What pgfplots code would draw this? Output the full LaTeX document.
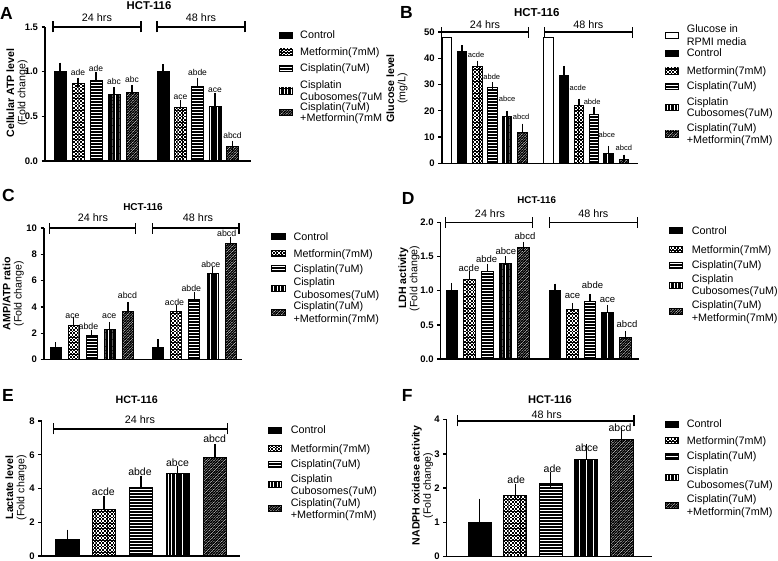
\documentclass[border=0pt]{standalone}
\usepackage{pgfplots}
\pgfplotsset{compat=1.18}
\usepackage{fontspec}
\setmainfont{Liberation Sans}
\usetikzlibrary{patterns.meta}

% tiles overlap a little so that no seams show between them
\tikzdeclarepattern{
  name=chk, type=uncolored,
  bottom left={(-0.2bp,-0.2bp)}, top right={(3.6bp,3.6bp)},
  tile size={(3.4bp,3.4bp)},
  code={\fill (-0.1bp,-0.1bp) rectangle (1.8bp,1.8bp); \fill (1.6bp,1.6bp) rectangle (3.5bp,3.5bp);}
}
\tikzdeclarepattern{
  name=hstr, type=uncolored,
  bottom left={(-0.3bp,-0.1bp)}, top right={(3.3bp,3.1bp)},
  tile size={(3bp,3bp)},
  code={\fill (-0.3bp,0bp) rectangle (3.3bp,2.1bp);}
}
\tikzdeclarepattern{
  name=vstr, type=uncolored,
  bottom left={(-0.1bp,-0.3bp)}, top right={(3.6bp,3.8bp)},
  tile size={(3.5bp,3.5bp)},
  code={\fill (0bp,-0.3bp) rectangle (2.85bp,3.8bp);}
}
\tikzdeclarepattern{
  name=dstr, type=uncolored,
  bottom left={(-0.3bp,-0.3bp)}, top right={(2.9bp,2.9bp)},
  tile size={(2.6bp,2.6bp)},
  code={\draw[line width=1.05bp] (-1.3bp,-1.3bp) -- (3.9bp,3.9bp)
          (-1.3bp,1.3bp) -- (1.3bp,3.9bp) (1.3bp,-1.3bp) -- (3.9bp,1.3bp);}
}

\tikzset{
  gluc/.style={draw=black, fill=white},
  ctrl/.style={draw=black, fill=black},
  metf/.style={draw=black, pattern=chk},
  cisp/.style={draw=black, pattern=hstr},
  cubo/.style={draw=black, pattern=vstr},
  comb/.style={draw=black, pattern=dstr},
  lt/.style={anchor=base west, inner sep=0pt, font=\fontsize{10.8}{12}\selectfont},
}

\pgfplotsset{
  prism/.style={
    scale only axis, clip=false, axis lines=left,
    axis line style={-, line width=1.4pt},
    xtick=\empty, xmin=0, ymin=0, enlargelimits=false,
    tick align=outside, major tick length=3.5pt,
    ytick style={line width=1.4pt, black},
    yticklabel style={font=\bfseries\fontsize{9.5}{10}\selectfont},
    ylabel style={font=\fontsize{10.6}{11.2}\selectfont, align=center, anchor=center},
    anchor=south west,
  },
  eb/.style={error bars/y dir=plus, error bars/y explicit,
    error bars/error bar style={line width=1.1pt, black},
    error bars/error mark options={line width=1.1pt, mark size=#1, black}},
  lab/.style={draw=none, mark=none, nodes near coords, point meta=explicit symbolic,
    nodes near coords style={font=\fontsize{#1}{#1}\selectfont, inner sep=0pt, black}},
}

\newcommand{\hrsf}{\fontsize{10.8}{12}\selectfont}
% bracket: x1, x2, text x, y, text, text raise
\newcommand{\brk}[6]{%
  \draw[line width=1.3pt] (axis cs:#1,#4) -- (axis cs:#2,#4);
  \draw[line width=1.3pt] (axis cs:#1,#4) ++(0pt,-5.5pt) -- ++(0pt,11pt);
  \draw[line width=1.3pt] (axis cs:#2,#4) ++(0pt,-5.5pt) -- ++(0pt,11pt);
  \node[anchor=base, inner sep=0pt, font=\hrsf, yshift=#6] at (axis cs:#3,#4) {#5};
}

% legend: swatch x, text x, then line centres (y down)
\newcommand{\prismleg}[9]{%
  \draw[ctrl, line width=0.8pt] (#1,{-(#3)+3}) rectangle ++(13.5,-6);
  \node[lt] at (#2,{-(#3)-3.9}) {Control};
  \draw[metf, line width=0.8pt] (#1,{-(#4)+3}) rectangle ++(13.5,-6);
  \node[lt] at (#2,{-(#4)-3.9}) {Metformin(7mM)};
  \draw[cisp, line width=0.8pt] (#1,{-(#5)+3}) rectangle ++(13.5,-6);
  \node[lt] at (#2,{-(#5)-3.9}) {Cisplatin(7uM)};
  \draw[cubo, line width=0.8pt] (#1,{-(#6+#7)/2+3}) rectangle ++(13.5,-6);
  \node[lt] at (#2,{-(#6)-3.9}) {Cisplatin};
  \node[lt] at (#2,{-(#7)-3.9}) {\cuboname};
  \draw[comb, line width=0.8pt] (#1,{-(#8+#9)/2+3}) rectangle ++(13.5,-6);
  \node[lt] at (#2,{-(#8)-3.9}) {Cisplatin(7uM)};
  \node[lt] at (#2,{-(#9)-3.9}) {\combname};
}
\newcommand{\cuboname}{Cubosomes(7uM)}
\newcommand{\combname}{+Metformin(7mM)}

\begin{document}
\begin{tikzpicture}
\path[use as bounding box] (0pt,0pt) rectangle (778pt,-561pt);

% ---------------- A
\begin{axis}[prism, at={(45pt,-161pt)}, width=206pt, height=134pt, xmax=206, ymax=1.5,
  ytick={0,0.5,1,1.5}, yticklabels={0.0,0.5,1.0,1.5},
  ylabel={\textbf{Cellular ATP level}\\(Fold change)},
  ylabel style={at={(axis description cs:-0.136,0.507)}}]
\addplot[ybar, bar shift=0pt, bar width=12, line width=1pt, ctrl, eb=4.5pt] coordinates {(15,1.0) +- (0,0.05) (118,1.0) +- (0,0.03)};
\addplot[ybar, bar shift=0pt, bar width=12, line width=1pt, metf, eb=4.5pt] coordinates {(33,0.866) +- (0,0.015) (135.5,0.60) +- (0,0.03)};
\addplot[ybar, bar shift=0pt, bar width=12, line width=1pt, cisp, eb=4.5pt] coordinates {(51,0.896) +- (0,0.045) (152.5,0.836) +- (0,0.045)};
\addplot[ybar, bar shift=0pt, bar width=12, line width=1pt, cubo, eb=4.5pt] coordinates {(69,0.747) +- (0,0.03) (170,0.606) +- (0,0.10)};
\addplot[ybar, bar shift=0pt, bar width=12, line width=1pt, comb, eb=4.5pt] coordinates {(87,0.762) +- (0,0.04) (187.5,0.16) +- (0,0.015)};
\addplot[lab=8.5] coordinates {(33,0.957) [ade] (51,1.002) [ade] (69,0.849) [abc] (87,0.872) [abc]
  (135.5,0.682) [ace] (152.5,0.957) [abde] (170,0.762) [ace] (187.5,0.252) [abcd]};
\brk{8}{96}{52}{1.5}{24 hrs}{5pt}
\brk{112}{200}{156}{1.5}{48 hrs}{5pt}
\end{axis}

% ---------------- B
\begin{axis}[prism, at={(441.7pt,-163.3pt)}, width=196pt, height=131.25pt, xmax=196, ymax=50,
  ytick={0,10,20,30,40,50}, yticklabels={0,10,20,30,40,50},
  ylabel={\textbf{Glucose level}\\(mg/L)},
  ylabel style={at={(axis description cs:-0.228,0.571)}}]
\addplot[ybar, bar shift=0pt, bar width=9.7, line width=1pt, gluc] coordinates {(5.3,48) (107,48)};
\addplot[ybar, bar shift=0pt, bar width=9.7, line width=1pt, ctrl, eb=3.5pt] coordinates {(20.3,42.6) +- (0,1) (122.3,33.3) +- (0,2.5)};
\addplot[ybar, bar shift=0pt, bar width=9.7, line width=1pt, metf, eb=3.5pt] coordinates {(36,36.8) +- (0,1) (137.3,22) +- (0,1.3)};
\addplot[ybar, bar shift=0pt, bar width=9.7, line width=1pt, cisp, eb=3.5pt] coordinates {(50.8,28.7) +- (0,0.9) (152.3,18.6) +- (0,1.7)};
\addplot[ybar, bar shift=0pt, bar width=9.7, line width=1pt, cubo, eb=3.5pt] coordinates {(65.3,17.7) +- (0,0.9) (167,3.7) +- (0,1.6)};
\addplot[ybar, bar shift=0pt, bar width=9.7, line width=1pt, comb, eb=3.5pt] coordinates {(80.8,11.9) +- (0,1.9) (182.3,1.5) +- (0,0.5)};
\addplot[lab=7.5] coordinates {(34.4,40.1) [acde] (50.1,31.7) [abde] (65.4,23.3) [abce] (79.4,16.5) [abcd]
  (136.1,27.8) [acde] (150.4,22.3) [abde] (165.1,9.7) [abce] (182.1,4.9) [abcd]};
\brk{0}{86.6}{43.3}{50}{24 hrs}{3.4pt}
\brk{102.6}{190.6}{146.6}{50}{48 hrs}{3.4pt}
\end{axis}

% ---------------- C
\begin{axis}[prism, at={(44pt,-359.6pt)}, width=198pt, height=131.6pt, xmax=198, ymax=10,
  ytick={0,2,4,6,8,10}, yticklabels={0,2,4,6,8,10},
  ylabel={\textbf{AMP/ATP ratio}\\(Fold change)},
  ylabel style={at={(axis description cs:-0.155,0.5)}}]
\addplot[ybar, bar shift=0pt, bar width=11, line width=1pt, ctrl, eb=4pt] coordinates {(11.5,0.94) +- (0,0.08) (114,0.94) +- (0,0.3)};
\addplot[ybar, bar shift=0pt, bar width=11, line width=1pt, metf, eb=4pt] coordinates {(29.8,2.57) +- (0,0.33) (132.3,3.66) +- (0,0.18)};
\addplot[ybar, bar shift=0pt, bar width=11, line width=1pt, cisp, eb=4pt] coordinates {(47.7,1.8) +- (0,0.16) (150.3,4.6) +- (0,0.25)};
\addplot[ybar, bar shift=0pt, bar width=11, line width=1pt, cubo, eb=4pt] coordinates {(65.8,2.31) +- (0,0.26) (168.5,6.56) +- (0,0.14)};
\addplot[ybar, bar shift=0pt, bar width=11, line width=1pt, comb, eb=4pt] coordinates {(84,3.66) +- (0,0.43) (186.8,8.82) +- (0,0.18)};
\addplot[lab=8.8] coordinates {(28.5,3.13) [ace] (44.5,2.27) [abde] (65.2,3.08) [ace] (83.5,4.6) [abcd]
  (130.5,4.1) [acde] (147.3,5.16) [abde] (166.8,6.97) [abce] (182.7,9.3) [abcd]};
\brk{5.3}{91.7}{49}{10}{24 hrs}{6.1pt}
\brk{108.7}{195}{154}{10}{48 hrs}{6.1pt}
\end{axis}

% ---------------- D
\begin{axis}[prism, at={(440.7pt,-359pt)}, width=198.6pt, height=136.7pt, xmax=198.6, ymax=2,
  ytick={0,0.5,1,1.5,2}, yticklabels={0.0,0.5,1.0,1.5,2.0},
  ylabel={\textbf{LDH activity}\\(Fold change)},
  ylabel style={at={(axis description cs:-0.16,0.59)}}]
\addplot[ybar, bar shift=0pt, bar width=11.6, line width=1pt, ctrl, eb=4.3pt] coordinates {(11.1,1.0) +- (0,0.05) (114.3,1.0) +- (0,0.04)};
\addplot[ybar, bar shift=0pt, bar width=11.6, line width=1pt, metf, eb=4.3pt] coordinates {(28.8,1.17) +- (0,0.05) (131.5,0.72) +- (0,0.04)};
\addplot[ybar, bar shift=0pt, bar width=11.6, line width=1pt, cisp, eb=4.3pt] coordinates {(46.8,1.28) +- (0,0.05) (149.3,0.84) +- (0,0.05)};
\addplot[ybar, bar shift=0pt, bar width=11.6, line width=1pt, cubo, eb=4.3pt] coordinates {(64.5,1.39) +- (0,0.05) (167,0.68) +- (0,0.05)};
\addplot[ybar, bar shift=0pt, bar width=11.6, line width=1pt, comb, eb=4.3pt] coordinates {(82.8,1.63) +- (0,0.02) (184.5,0.32) +- (0,0.03)};
\addplot[lab=9.5] coordinates {(28.3,1.27) [acde] (46,1.41) [abde] (65.1,1.53) [abce] (84.3,1.75) [abcd]
  (131.8,0.88) [ace] (151.8,1.03) [abde] (166.8,0.82) [ace] (186.3,0.45) [abcd]};
\brk{5}{92}{49.3}{2}{24 hrs}{5.1pt}
\brk{108.6}{196.6}{152.6}{2}{48 hrs}{5.1pt}
\end{axis}

% ---------------- E
\begin{axis}[prism, at={(41.7pt,-556pt)}, width=198.3pt, height=135pt, xmax=198.3, ymax=8,
  ytick={0,2,4,6,8}, yticklabels={0,2,4,6,8},
  ylabel={\textbf{Lactate level}\\(Fold change)},
  ylabel style={at={(axis description cs:-0.13,0.507)}}]
\addplot[ybar, bar shift=0pt, bar width=23.3, line width=1pt, ctrl, eb=6.2pt] coordinates {(25.8,0.99) +- (0,0.2)};
\addplot[ybar, bar shift=0pt, bar width=23.3, line width=1pt, metf, eb=6.2pt] coordinates {(62.3,2.77) +- (0,0.4)};
\addplot[ybar, bar shift=0pt, bar width=23.3, line width=1pt, cisp, eb=6.2pt] coordinates {(99.3,4.06) +- (0,0.34)};
\addplot[ybar, bar shift=0pt, bar width=23.3, line width=1pt, cubo, eb=6.2pt] coordinates {(136,4.87) +- (0,0.08)};
\addplot[ybar, bar shift=0pt, bar width=23.3, line width=1pt, comb, eb=6.2pt] coordinates {(173.3,5.86) +- (0,0.4)};
\addplot[lab=10.5] coordinates {(61.6,3.55) [acde] (98.3,4.78) [abde] (135.8,5.28) [abce] (173,6.73) [abcd]};
\brk{11.6}{186}{98.3}{7.53}{24 hrs}{5.1pt}
\end{axis}

% ---------------- F
\begin{axis}[prism, at={(446.7pt,-556.7pt)}, width=205pt, height=137.2pt, xmax=205, ymax=4,
  ytick={0,1,2,3,4}, yticklabels={0,1,2,3,4},
  ylabel={\textbf{NADPH oxidase activity}\\(Fold change)},
  ylabel style={at={(axis description cs:-0.118,0.52)}}]
\addplot[ybar, bar shift=0pt, bar width=23, line width=1pt, ctrl, eb=8pt] coordinates {(33,0.99) +- (0,0.47)};
\addplot[ybar, bar shift=0pt, bar width=23, line width=1pt, metf, eb=8pt] coordinates {(68.6,1.77) +- (0,0.11)};
\addplot[ybar, bar shift=0pt, bar width=23, line width=1pt, cisp, eb=8pt] coordinates {(104.1,2.14) +- (0,0.1)};
\addplot[ybar, bar shift=0pt, bar width=23, line width=1pt, cubo, eb=8pt] coordinates {(139.6,2.82) +- (0,0.22)};
\addplot[ybar, bar shift=0pt, bar width=23, line width=1pt, comb, eb=8pt] coordinates {(175,3.41) +- (0,0.12)};
\addplot[lab=10.5] coordinates {(69.5,2.14) [ade] (105.8,2.45) [ade] (140,3.05) [abce] (173.3,3.64) [abcd]};
\brk{11}{187.3}{100}{3.96}{48 hrs}{2.8pt}
\end{axis}

% ---------------- titles, panel letters, legends
\begin{scope}[x=1pt, y=1pt]
\node[anchor=base, inner sep=0pt, font=\bfseries\fontsize{11.3}{12}\selectfont] at (149,-10) {HCT-116};
\node[anchor=base, inner sep=0pt, font=\bfseries\fontsize{11.5}{12}\selectfont] at (536.7,-16.1) {HCT-116};
\node[anchor=base, inner sep=0pt, font=\bfseries\fontsize{10}{12}\selectfont] at (143,-210.3) {HCT-116};
\node[anchor=base, inner sep=0pt, font=\bfseries\fontsize{9.8}{12}\selectfont] at (536.7,-203.4) {HCT-116};
\node[anchor=base, inner sep=0pt, font=\bfseries\fontsize{10.7}{12}\selectfont] at (136.7,-403.1) {HCT-116};
\node[anchor=base, inner sep=0pt, font=\bfseries\fontsize{11.1}{12}\selectfont] at (550,-403.3) {HCT-116};

\node[anchor=base west, inner sep=0pt, font=\bfseries\fontsize{17.5}{18}\selectfont] at (0,-20) {A};
\node[anchor=base west, inner sep=0pt, font=\bfseries\fontsize{17.5}{18}\selectfont] at (400,-18.5) {B};
\node[anchor=base west, inner sep=0pt, font=\bfseries\fontsize{17.5}{18}\selectfont] at (2,-201.7) {C};
\node[anchor=base west, inner sep=0pt, font=\bfseries\fontsize{17.5}{18}\selectfont] at (401.7,-205) {D};
\node[anchor=base west, inner sep=0pt, font=\bfseries\fontsize{17.5}{18}\selectfont] at (2,-401.7) {E};
\node[anchor=base west, inner sep=0pt, font=\bfseries\fontsize{17.5}{18}\selectfont] at (401.7,-401.7) {F};

\begingroup
\renewcommand{\cuboname}{Cubosomes(7uM}
\renewcommand{\combname}{+Metformin(7mM}
\prismleg{279}{300}{35}{52}{68}{85}{97}{107}{118}
\endgroup

\draw[gluc, line width=0.8pt] (665,{-35.5+3}) rectangle ++(13.5,-6);
\node[lt] at (686.7,{-29-3.9}) {Glucose in};
\node[lt] at (686.7,{-42-3.9}) {RPMI media};
\prismleg{665}{686.7}{53}{71}{86}{102}{113}{128}{140}

\prismleg{271.7}{293.3}{236.7}{253.3}{268.3}{281.7}{295}{306}{318.3}
\prismleg{669.3}{691.7}{230.7}{249.3}{265}{279}{291}{305}{317.3}
\prismleg{268.3}{290.7}{430}{448.3}{464}{478.3}{490.7}{502.7}{515}
\prismleg{665}{686.7}{424}{440.7}{456}{470.7}{484.3}{498.3}{511.7}
\end{scope}
\end{tikzpicture}
\end{document}
